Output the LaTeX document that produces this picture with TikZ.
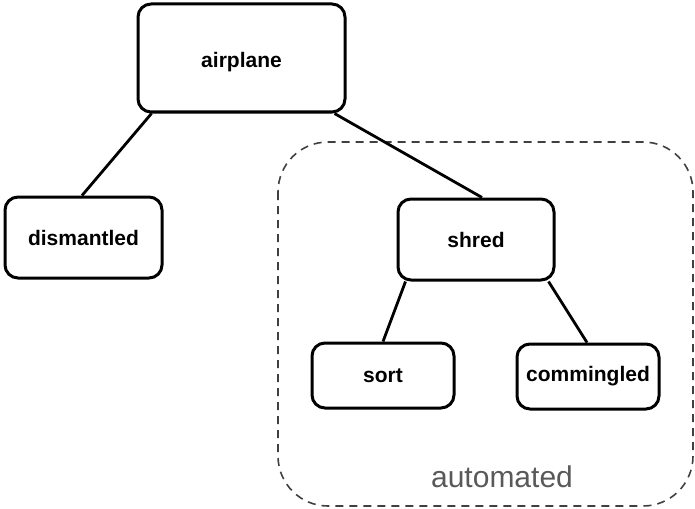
\documentclass[tikz,border=0pt]{standalone}
\usepackage{fontspec}
\setmainfont{Liberation Sans}
\begin{document}
\begin{tikzpicture}[x=1pt,y=-1pt,
  box/.style={draw=black,line width=3pt,rounded corners=13pt,fill=white,inner sep=0pt,
    font=\fontsize{21}{24}\selectfont\bfseries},
  conn/.style={draw=black,line width=2.8pt},
  group/.style={draw=black!75,line width=1.6pt,dash pattern=on 8pt off 6pt,rounded corners=50pt}]
\useasboundingbox (0,0) rectangle (695,508);
\draw[group] (278,142) rectangle (693,506);
\node[text=black!65,font=\fontsize{30}{34}\selectfont] (auto) at (502,477) {automated};
\node[box,minimum width=207pt,minimum height=108pt,text height=23pt,text depth=4.4pt] (airplane) at (241.5,58) {airplane};
\node[box,minimum width=157pt,minimum height=81pt] (dismantled) at (83.5,237.5) {dismantled};
\node[box,minimum width=156pt,minimum height=81pt] (shred) at (476,239.5) {shred};
\node[box,minimum width=142pt,minimum height=65pt] (sort) at (383,375.5) {sort};
\node[box,minimum width=142pt,minimum height=65pt] (comm) at (588,376.5) {commingled};
\draw[conn] ([xshift=15pt]airplane.south west) -- ([xshift=-1.5pt]dismantled.north);
\draw[conn] ([xshift=-12pt]airplane.south east) -- ([xshift=6pt]shred.north);
\draw[conn] ([xshift=9pt]shred.south west) -- (sort.north);
\draw[conn] ([xshift=-7pt]shred.south east) -- ([xshift=-1pt]comm.north);
\end{tikzpicture}
\end{document}
